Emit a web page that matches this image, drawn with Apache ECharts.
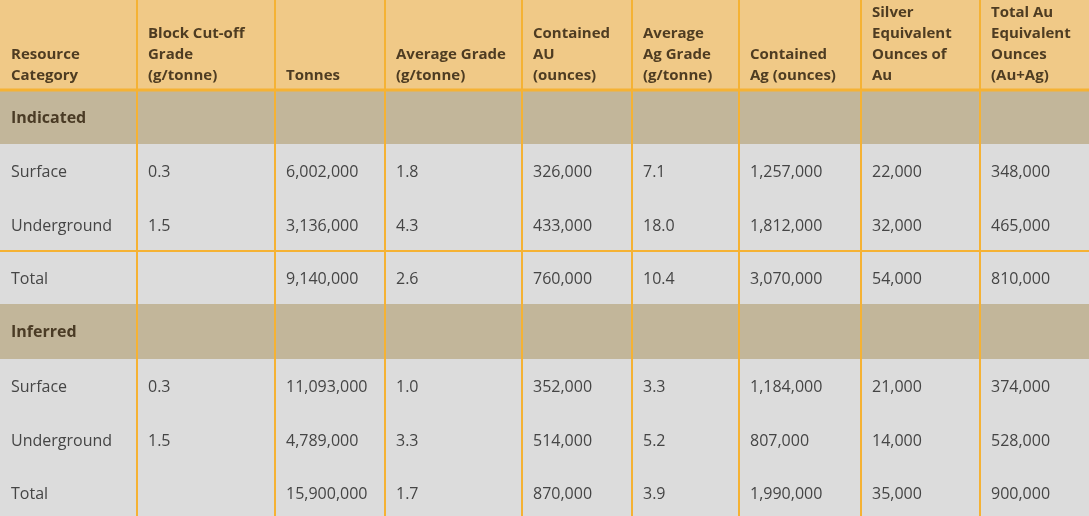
<!DOCTYPE html>
<html>
<head>
<meta charset="utf-8">
<script src="https://cdn.jsdelivr.net/npm/echarts@6/dist/echarts.min.js"></script>
<style>
html,body{margin:0;padding:0;background:#DCDCDC;}
#chart{width:1089px;height:516px;}
</style>
</head>
<body>
<div id="chart"></div>
<script>
// ---- data ----
var headers = [
  'Resource\nCategory',
  'Block Cut-off\nGrade\n(g/tonne)',
  'Tonnes',
  'Average Grade\n(g/tonne)',
  'Contained\nAU\n(ounces)',
  'Average\nAg Grade\n(g/tonne)',
  'Contained\nAg (ounces)',
  'Silver\nEquivalent\nOunces of\nAu',
  'Total Au\nEquivalent\nOunces\n(Au+Ag)'
];
var rowLabels = ['Indicated','Surface','Underground','Total','Inferred','Surface','Underground','Total'];
var rowKinds  = ['section','data','data','total','section','data','data','total'];
var cutoffGrade = [null,0.3,1.5,null,null,0.3,1.5,null];
var tonnes      = [null,6002000,3136000,9140000,null,11093000,4789000,15900000];
var avgGrade    = [null,1.8,4.3,2.6,null,1.0,3.3,1.7];
var containedAu = [null,326000,433000,760000,null,352000,514000,870000];
var avgAgGrade  = [null,7.1,18.0,10.4,null,3.3,5.2,3.9];
var containedAg = [null,1257000,1812000,3070000,null,1184000,807000,1990000];
var silverEqAu  = [null,22000,32000,54000,null,21000,14000,35000];
var totalAuEq   = [null,348000,465000,810000,null,374000,528000,900000];

// ---- layout (not data) ----
var colEdges = [0,137,275,385,522,632,739,861,980,1089];
var rowEdges = [0,90,144,198,251,304,359,413,466,520];
var sepRows = [3]; // orange line above this data row index (Indicated Total)

function fmtInt(v){ return v==null ? '' : v.toLocaleString('en-US'); }
function fmtDec(v){ return v==null ? '' : v.toFixed(1); }

var columns = [
  {vals: rowLabels, fmt: function(v){return v;}},
  {vals: cutoffGrade, fmt: fmtDec},
  {vals: tonnes, fmt: fmtInt},
  {vals: avgGrade, fmt: fmtDec},
  {vals: containedAu, fmt: fmtInt},
  {vals: avgAgGrade, fmt: fmtDec},
  {vals: containedAg, fmt: fmtInt},
  {vals: silverEqAu, fmt: fmtInt},
  {vals: totalAuEq, fmt: fmtInt}
];

var cells = [];
for (var c = 0; c < headers.length; c++) {
  cells.push([c, 0, headers[c], 'header']);
  for (var r = 0; r < rowLabels.length; r++) {
    cells.push([c, r + 1, columns[c].fmt(columns[c].vals[r]), rowKinds[r]]);
  }
}

var FONT = '"Open Sans", "DejaVu Sans", sans-serif';
var HEADER_BG = '#F0C987', SECTION_BG = '#C2B69A', BODY_BG = '#DCDCDC', LINE = '#F5B234';

var chart = echarts.init(document.getElementById('chart'));
chart.setOption({
  animation: false,
  backgroundColor: BODY_BG,
  grid: {left: 0, right: 0, top: 0, bottom: 0},
  xAxis: {type: 'value', min: 0, max: 1089, show: false},
  yAxis: {type: 'value', min: 0, max: 516, inverse: true, show: false},
  series: [
    {
      type: 'custom',
      z: 1,
      data: cells,
      renderItem: function (params, api) {
        var c = api.value(0), r = api.value(1);
        var d = cells[params.dataIndex];
        var kind = d[3], txt = d[2];
        var p0 = api.coord([colEdges[c], rowEdges[r]]);
        var p1 = api.coord([colEdges[c + 1], rowEdges[r + 1]]);
        var bg = kind === 'header' ? HEADER_BG : (kind === 'section' ? SECTION_BG : BODY_BG);
        var children = [{
          type: 'rect',
          shape: {x: p0[0], y: p0[1], width: p1[0] - p0[0], height: p1[1] - p0[1]},
          style: {fill: bg}
        }];
        if (txt) {
          if (kind === 'header') {
            children.push({
              type: 'text',
              style: {
                text: txt, x: p0[0] + 11, y: p1[1] - 4,
                font: 'bold 15px ' + FONT, fill: '#4E3C22',
                align: 'left', verticalAlign: 'bottom', lineHeight: 21
              }
            });
          } else {
            var midY = (p0[1] + Math.min(p1[1], api.coord([0, rowEdges[r] + 54])[1])) / 2 + 1.5;
            children.push({
              type: 'text',
              style: {
                text: txt, x: p0[0] + 11, y: midY,
                font: (kind === 'section' ? 'bold ' : '') + '16px ' + FONT,
                fill: kind === 'section' ? '#4A3B25' : '#454545',
                align: 'left', verticalAlign: 'middle'
              }
            });
          }
        }
        return {type: 'group', children: children};
      }
    },
    {
      type: 'custom',
      z: 5,
      data: colEdges.slice(1, colEdges.length - 1),
      renderItem: function (params, api) {
        var x = api.value(0);
        var a = api.coord([x, 0]), b = api.coord([x, 516]);
        return {type: 'line', shape: {x1: a[0], y1: a[1], x2: b[0], y2: b[1]},
                style: {stroke: LINE, lineWidth: 2}};
      }
    },
    {
      type: 'custom',
      z: 6,
      data: [[1, 3]].concat(sepRows.map(function (i) { return [i + 1, 2]; })),
      renderItem: function (params, api) {
        var y = rowEdges[api.value(0)];
        var a = api.coord([0, y]), b = api.coord([1089, y]);
        return {type: 'line', shape: {x1: a[0], y1: a[1], x2: b[0], y2: b[1]},
                style: {stroke: LINE, lineWidth: api.value(1)}};
      }
    }
  ]
});
</script>
</body>
</html>
